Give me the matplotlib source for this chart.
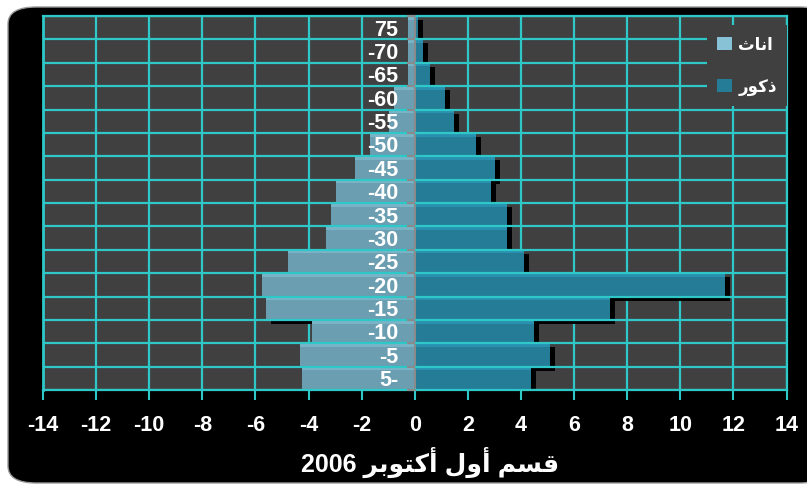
import numpy as np
import matplotlib
matplotlib.use('Agg')
import matplotlib.pyplot as plt
from matplotlib.patches import FancyBboxPatch, Patch
from matplotlib import transforms

# age groups, bottom to top
ages = ['5-', '-5', '-10', '-15', '-20', '-25', '-30', '-35',
        '-40', '-45', '-50', '-55', '-60', '-65', '-70', '75']
females = [4.24, 4.32, 3.87, 5.6, 5.75, 4.77, 3.34, 3.15,
           2.96, 2.24, 1.68, 0.96, 0.77, 0.25, 0.25, 0.25]
males = [4.39, 5.1, 4.5, 7.37, 11.67, 4.13, 3.49, 3.49,
         2.88, 3.03, 2.32, 1.49, 1.15, 0.58, 0.32, 0.14]
xticks = list(range(-14, 15, 2))

# arabic text, shaped and in visual order (matplotlib has no bidi)
lbl_female = '\uFE99\uFE8E\uFEE7\uFE8D'          # اناث
lbl_male = '\uFEAD\uFEEE\uFEDB\uFEAB'            # ذكور
title = '2006 ' + '\uFEAE\uFE91\uFEEE\uFE98\uFEDB\uFE83' + ' ' + \
        '\uFEDD\uFEED\uFE83' + ' ' + '\uFEE2\uFEB4\uFED7'   # قسم أول أكتوبر 2006

teal = '#2ec8c8'
c_fem = '#6a9eb0'
c_fem_top = '#88c2d6'
c_male = '#247c96'
c_male_top = '#2ea0c0'

fig = plt.figure(figsize=(8.07, 4.85), dpi=100)
fig.patch.set_facecolor('white')
bg = FancyBboxPatch((8 / 807, 1 / 485), 820 / 807, 476 / 485,
                    boxstyle='round,pad=0,rounding_size=0.035',
                    transform=fig.transFigure, facecolor='black',
                    edgecolor='#999999', linewidth=1, zorder=-5)
fig.patches.append(bg)

ax = fig.add_axes([43 / 807, 1 - 391 / 485, 743.5 / 807, 374 / 485])
ax.set_zorder(2)
ax.set_facecolor('#404040')

y = np.arange(len(ages))
fem_neg = [-v for v in females]

# shadows first, all of them under the bars
shadow = transforms.offset_copy(ax.transData, fig=fig, x=5, y=-4, units='dots')
ax.barh(y, males, height=1.0, color='black', transform=shadow, zorder=2)
ax.barh(y, fem_neg, height=1.0, color='black', transform=shadow, zorder=2)

ax.barh(y, fem_neg, height=1.0, color=c_fem, zorder=3)
ax.barh(y, males, height=1.0, color=c_male, zorder=3)
# light strip at the top of each bar
ax.barh(y + 0.42, fem_neg, height=0.16, color=c_fem_top, alpha=0.6, zorder=3.1)
ax.barh(y + 0.42, males, height=0.16, color=c_male_top, alpha=0.6, zorder=3.1)

ax.set_xlim(-14, 14)
ax.set_ylim(-0.5, len(ages) - 0.5)
ax.set_xticks(xticks)
ax.set_xticklabels([str(t) for t in xticks])
ax.set_yticks(np.arange(-0.5, len(ages), 1))
ax.set_yticklabels([])
ax.grid(True, color=teal, linewidth=1.6, zorder=1)
ax.set_axisbelow(True)

for s in ['top', 'right', 'bottom']:
    ax.spines[s].set_color(teal)
    ax.spines[s].set_linewidth(1.6)
ax.spines['left'].set_position(('data', 0))
ax.spines['left'].set_color('#8a8a8a')
ax.spines['left'].set_linewidth(1.5)
ax.spines['left'].set_zorder(5)
ax.axvline(-14, color=teal, linewidth=2, clip_on=False, zorder=1.5)

ax.tick_params(axis='x', colors='white', length=7, width=1.5, pad=10, labelsize=15.5)
ax.tick_params(axis='x', color=teal)
ax.tick_params(axis='y', color='#8a8a8a', length=6, width=1.5, direction='out')
for lab in ax.get_xticklabels():
    lab.set_fontweight('bold')
    lab.set_family(['Liberation Sans', 'DejaVu Sans'])
ax.yaxis.set_zorder(5)

for yi, a in zip(y, ages):
    ax.annotate(a, xy=(0, yi), xytext=(-12, -1), textcoords='offset points',
                ha='right', va='center', color='white', fontsize=15.5,
                fontweight='bold', family=['Liberation Sans', 'DejaVu Sans'],
                zorder=6)

handles = [Patch(facecolor=c_fem_top, edgecolor='none', label=lbl_female),
           Patch(facecolor=c_male, edgecolor='none', label=lbl_male)]
leg = ax.legend(handles=handles, loc='upper left',
                bbox_to_anchor=(699 / 807, 1 - 18 / 485), bbox_transform=fig.transFigure,
                frameon=True, facecolor='#404040', edgecolor='none', framealpha=1,
                handlelength=0.85, handleheight=0.85, handletextpad=0.4,
                labelspacing=1.45, borderpad=0.6, fancybox=False,
                prop={'family': ['DejaVu Sans'], 'size': 12, 'weight': 'bold'})
for t in leg.get_texts():
    t.set_color('white')
leg.set_zorder(7)

fig.text(430 / 807, 1 - 462 / 485, title, ha='center', va='center',
         color='white', fontsize=18, fontweight='bold',
         family=['Liberation Sans', 'DejaVu Sans'])

fig.savefig('out.png', dpi=100, facecolor=fig.get_facecolor())
